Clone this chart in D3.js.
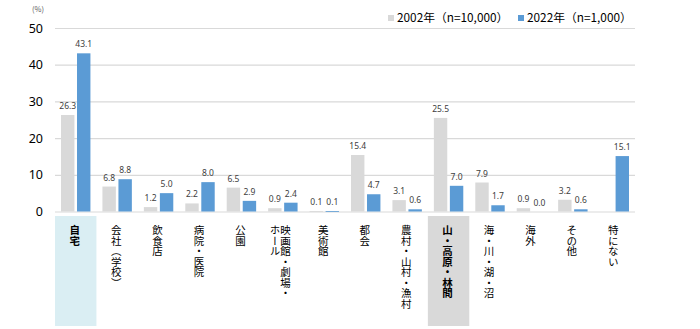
<!DOCTYPE html>
<html><head><meta charset="utf-8">
<script src="https://cdn.jsdelivr.net/npm/d3@7"></script>
<style>
body{margin:0;background:#fff;}
svg{display:block;}
</style>
</head><body>
<svg id="c" width="700" height="329"></svg>
<script>
const categories = ["自宅","会社（学校）","飲食店","病院・医院","公園","映画館・劇場・ホール","美術館","都会","農村・山村・漁村","山・高原・林間","海・川・湖・沼","海外","その他","特にない"];
// label columns (vertical text, columns right-to-left)
const labelColumns = [["自宅"],["会社（学校）"],["飲食店"],["病院・医院"],["公園"],["映画館・劇場・","ホール"],["美術館"],["都会"],["農村・山村・漁村"],["山・高原・林間"],["海・川・湖・沼"],["海外"],["その他"],["特にない"]];
const seriesNames = ["2002年（n=10,000）","2022年（n=1,000）"];
const values2002 = [26.3,6.8,1.2,2.2,6.5,0.9,0.1,15.4,3.1,25.5,7.9,0.9,3.2,null];
const values2022 = [43.1,8.8,5.0,8.0,2.9,2.4,0.1,4.7,0.6,7.0,1.7,0.0,0.6,15.1];
const yTicks = [0,10,20,30,40,50];
const highlighted = {"自宅":"#daeef3","山・高原・林間":"#d9d9d9"};
const boldCats = ["自宅","山・高原・林間"];

(function(){
const colors = ["#d9d9d9","#5b9bd5"];
const svg = d3.select("#c");
const mLeft = 55, mRight = 635, mTop = 28, mBottom = 211.5;

const x0 = d3.scaleBand().domain(categories).range([mLeft,mRight]).paddingInner(0).paddingOuter(0);
const x1 = d3.scaleBand().domain([0,1]).range([0,x0.bandwidth()]).paddingInner(0.1625).paddingOuter(0.375);
const y = d3.scaleLinear().domain([0,50]).range([mBottom,mTop]);

// highlight boxes
svg.append("g").selectAll("rect").data(categories.filter(c=>highlighted[c])).join("rect")
  .attr("x",d=>x0(d)).attr("width",x0.bandwidth())
  .attr("y",216).attr("height",110).attr("fill",d=>highlighted[d]);

// gridlines
const yAxis = d3.axisLeft(y).tickValues(yTicks).tickSize(-(mRight-mLeft)).tickPadding(12).tickFormat(d3.format("d"));
const gy = svg.append("g").attr("transform",`translate(${mLeft},0)`).call(yAxis);
gy.select(".domain").remove();
gy.selectAll(".tick line").attr("stroke","#d9d9d9").attr("stroke-width",1.2);
gy.selectAll(".tick text").attr("font-family","'Noto Sans', sans-serif").attr("font-size",12.5).attr("fill","#000").attr("x",-12);

svg.append("text").attr("x",38).attr("y",12).attr("text-anchor","middle")
  .attr("font-family","'Noto Sans CJK JP', sans-serif").attr("font-size",7.5).attr("fill","#595959").text("(%)");

const series = [values2002, values2022];
series.forEach((vals,si)=>{
  const g = svg.append("g");
  const data = categories.map((c,i)=>({c, v: vals[i]})).filter(d=>d.v!==null);
  g.selectAll("rect").data(data).join("rect")
    .attr("x",d=>x0(d.c)+x1(si)).attr("width",x1.bandwidth())
    .attr("y",d=>y(d.v)).attr("height",d=>Math.max(y(0)-y(d.v), d.v===0?0:0.8))
    .attr("fill",colors[si]);
  g.selectAll("text").data(data).join("text")
    .attr("x",d=>x0(d.c)+x1(si)+x1.bandwidth()/2).attr("y",d=>y(d.v)-6)
    .attr("text-anchor","middle").attr("font-family","'Noto Sans', sans-serif")
    .attr("font-size",8.5).attr("fill","#404040").text(d=>d.v.toFixed(1));
});

// category labels (vertical)
const colGap = 10.5;
categories.forEach((c,i)=>{
  const cols = labelColumns[i];
  const cx = x0(c)+x0.bandwidth()/2 - 1 - (cols.length-1)*1.5;
  cols.forEach((t,j)=>{
    const off = ((cols.length-1)/2 - j)*colGap;
    svg.append("text").attr("x",cx+off).attr("y",225)
      .style("writing-mode","vertical-rl")
      .attr("font-family","'Noto Sans CJK JP', sans-serif").attr("font-size",10.5)
      .attr("font-weight",boldCats.includes(c)?"bold":"normal")
      .attr("fill","#000").text(t);
  });
});

// legend
const legX = [388, 518];
seriesNames.forEach((n,i)=>{
  svg.append("rect").attr("x",legX[i]).attr("y",15).attr("width",6).attr("height",6).attr("fill",colors[i]);
  svg.append("text").attr("x",legX[i]+9).attr("y",22).attr("font-family","'Noto Sans CJK JP', sans-serif")
    .attr("font-size",11.8).attr("fill","#000").text(n);
});
})();
</script>
</body></html>
